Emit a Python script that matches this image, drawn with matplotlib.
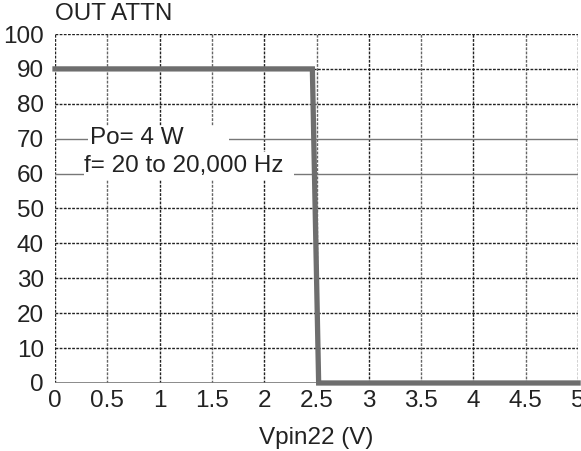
import matplotlib.pyplot as plt
from matplotlib.patches import Rectangle

plt.rcParams['font.family'] = ['Liberation Sans', 'DejaVu Sans']

# curve: attenuation vs Vpin22
vpin = [0, 2.46, 2.52, 5]
attn = [90, 90, 0, 0]

x_ticks = [0, 0.5, 1, 1.5, 2, 2.5, 3, 3.5, 4, 4.5, 5]
x_labels = ['0', '0.5', '1', '1.5', '2', '2.5', '3', '3.5', '4', '4.5', '5']
y_ticks = [0, 10, 20, 30, 40, 50, 60, 70, 80, 90, 100]

fs = 17.5
fig = plt.figure(figsize=(5.81, 4.51), dpi=100)
ax = fig.add_axes([0.0947, 0.1508, 0.9003, 0.7738])

ax.set_xlim(0, 5)
ax.set_ylim(0, 100)

# grid
for x in x_ticks:
    c = '#222222' if x == int(x) else '#666666'
    ax.axvline(x, color=c, lw=1.0, ls=(0, (2, 1)), zorder=1)
for y in y_ticks[1:]:
    if y in (60, 70):
        ax.axhline(y, color='#777777', lw=1.0, zorder=1)
    else:
        ax.axhline(y, color='#222222', lw=1.0, ls=(0, (2, 1)), zorder=1)
ax.axhline(0, color='#777777', lw=1.2, zorder=1)

for s in ax.spines.values():
    s.set_visible(False)

ax.plot(vpin, attn, color='#6e6e6e', lw=3.8, solid_joinstyle='miter',
        clip_on=False, zorder=3)

# white label boxes
ax.add_patch(Rectangle((0.32, 66), 1.34, 7.6, fc='white', ec='none', zorder=1.5))
ax.add_patch(Rectangle((0.28, 58.2), 2.0, 7.9, fc='white', ec='none', zorder=1.5))
ax.text(0.33, 70.2, 'Po= 4 W', fontsize=fs, va='center', ha='left', zorder=2,
        color='#222222')
ax.text(0.28, 62.2, 'f= 20 to 20,000 Hz', fontsize=fs, va='center', ha='left', zorder=2,
        color='#222222')

ax.set_xticks(x_ticks)
ax.set_xticklabels(x_labels)
ax.set_yticks(y_ticks)
ax.tick_params(length=0, labelsize=fs, colors='#222222', pad=5)
ax.tick_params(axis='y', pad=8)

ax.set_xlabel('Vpin22 (V)', fontsize=fs, color='#222222', labelpad=11)
fig.text(0.0947, 0.968, 'OUT ATTN', fontsize=fs, color='#222222', va='center', ha='left')

fig.savefig('out.png', dpi=100)
